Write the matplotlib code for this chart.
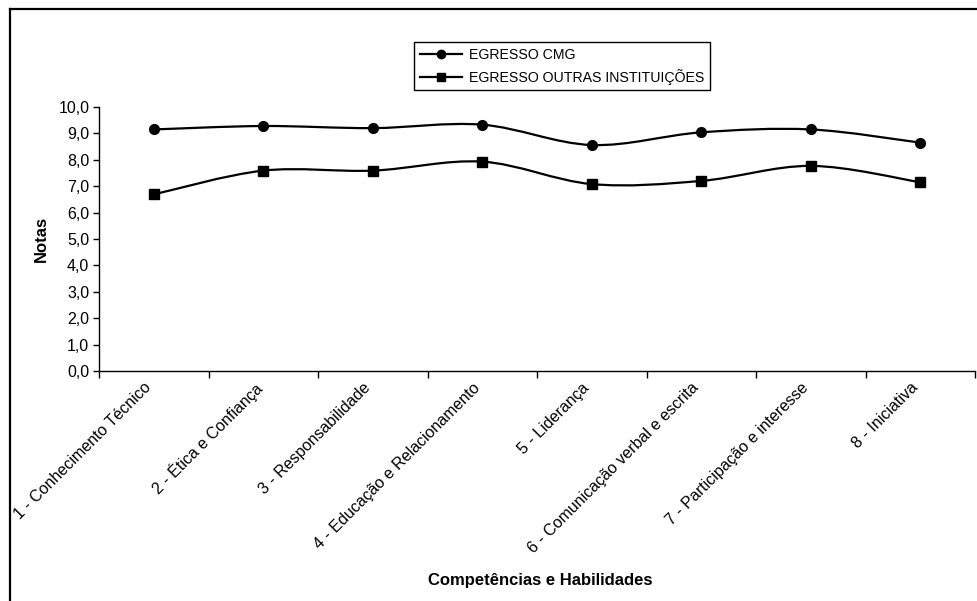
import matplotlib.pyplot as plt
from matplotlib.path import Path
from matplotlib.patches import PathPatch
from matplotlib.lines import Line2D
from matplotlib.ticker import FixedLocator, FuncFormatter, NullFormatter

plt.rcParams['font.family'] = ['Liberation Sans', 'DejaVu Sans']

categorias = [
    "1 - Conhecimento Técnico",
    "2 - Ética e Confiança",
    "3 - Responsabilidade",
    "4 - Educação e Relacionamento",
    "5 - Liderança",
    "6 - Comunicação verbal e escrita",
    "7 - Participação e interesse",
    "8 - Iniciativa",
]
egresso_cmg = [9.15, 9.28, 9.2, 9.33, 8.56, 9.04, 9.15, 8.65]
egresso_outras = [6.69, 7.59, 7.59, 7.93, 7.08, 7.2, 7.77, 7.15]


def smooth_path(xs, ys):
    # bezier segments through every point, like the "smoothed line" option
    pts = list(zip(xs, ys))
    n = len(pts)
    verts = [pts[0]]
    codes = [Path.MOVETO]
    for i in range(n - 1):
        p0 = pts[i - 1] if i > 0 else pts[i]
        p1 = pts[i]
        p2 = pts[i + 1]
        p3 = pts[i + 2] if i + 2 < n else pts[i + 1]
        c1 = (p1[0] + (p2[0] - p0[0]) / 6, p1[1] + (p2[1] - p0[1]) / 6)
        c2 = (p2[0] - (p3[0] - p1[0]) / 6, p2[1] - (p3[1] - p1[1]) / 6)
        verts += [c1, c2, p2]
        codes += [Path.CURVE4] * 3
    return Path(verts, codes)


fig = plt.figure(figsize=(9.77, 6.01), dpi=100)
ax = fig.add_axes([99 / 977, 1 - 371 / 601, (975 - 99) / 977, (371 - 107) / 601])

x = list(range(1, len(categorias) + 1))
for serie, marker in [(egresso_cmg, 'o'), (egresso_outras, 's')]:
    ax.add_patch(PathPatch(smooth_path(x, serie), facecolor='none',
                           edgecolor='black', lw=1.6, zorder=2))
    ax.plot(x, serie, linestyle='none', marker=marker, ms=7,
            color='black', zorder=3)

ax.set_xlim(0.5, len(categorias) + 0.5)
ax.set_ylim(0, 10)
ax.set_yticks([i for i in range(11)])
ax.yaxis.set_major_formatter(FuncFormatter(lambda v, p: f"{v:.1f}".replace('.', ',')))

# category labels sit slightly left of each category, rotated 45 degrees
ax.set_xticks(x)
ax.xaxis.set_major_formatter(NullFormatter())
for xi, cat in zip(x, categorias):
    ax.annotate(cat, xy=(xi, 0), xycoords=('data', 'axes fraction'),
                xytext=(-10, -9), textcoords='offset pixels',
                rotation=45, ha='right', va='top', rotation_mode='anchor',
                fontsize=11.5)
ax.xaxis.set_minor_locator(FixedLocator([i + 0.5 for i in range(len(categorias) + 1)]))
ax.tick_params(axis='x', which='major', length=0)
ax.tick_params(axis='x', which='minor', length=5, width=1, direction='out')
ax.tick_params(axis='y', length=4, width=1, direction='out', labelsize=11.5, pad=3)

for s in ['top', 'right']:
    ax.spines[s].set_visible(False)
for s in ['left', 'bottom']:
    ax.spines[s].set_linewidth(1)

ax.set_ylabel("Notas", fontsize=12, fontweight='bold', labelpad=7)
fig.text(540 / 977, 1 - 580 / 601, "Competências e Habilidades",
         fontsize=12, fontweight='bold', ha='center', va='center')

handles = [
    Line2D([], [], color='black', lw=1.6, marker='o', ms=6),
    Line2D([], [], color='black', lw=1.6, marker='s', ms=6),
]
leg = fig.legend(handles, ["EGRESSO CMG", "EGRESSO OUTRAS INSTITUIÇÕES"],
                 loc='upper left', bbox_to_anchor=(414 / 977, 1 - 42 / 601),
                 bbox_transform=fig.transFigure, borderaxespad=0,
                 fancybox=False, framealpha=1, edgecolor='black',
                 fontsize=10.2, handlelength=3.0, handletextpad=0.5,
                 labelspacing=0.5, borderpad=0.4)
leg.get_frame().set_linewidth(1)

# outer chart frame
fig.add_artist(Line2D([9.5 / 977, 9.5 / 977], [0, 1 - 8.5 / 601],
                      transform=fig.transFigure, color='black', lw=1.6))
fig.add_artist(Line2D([9.5 / 977, 1], [1 - 8.5 / 601, 1 - 8.5 / 601],
                      transform=fig.transFigure, color='black', lw=1.6))

fig.savefig("out.png", dpi=100)
